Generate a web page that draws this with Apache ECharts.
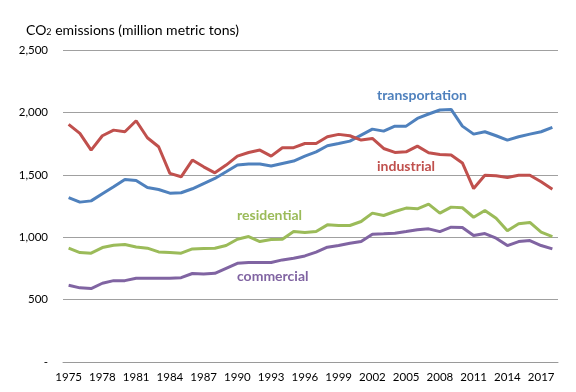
<!DOCTYPE html>
<html><head><meta charset="utf-8">
<script src="https://cdn.jsdelivr.net/npm/echarts@6/dist/echarts.min.js"></script>
<style>html,body{margin:0;padding:0;background:#fff}#c{width:576px;height:392px}</style>
</head><body><div id="c"></div>
<script>
const years = [];
for (let y = 1975; y <= 2018; y++) years.push(String(y));
const transportation = [1318,1281,1291,1348,1404,1463,1455,1398,1382,1353,1356,1388,1430,1471,1524,1578,1586,1586,1570,1591,1610,1650,1684,1733,1751,1770,1818,1866,1850,1890,1890,1952,1987,2019,2024,1890,1826,1845,1813,1778,1805,1826,1845,1880];
const industrial = [1904,1832,1698,1813,1858,1845,1933,1797,1725,1511,1484,1618,1564,1516,1578,1650,1679,1698,1650,1717,1717,1751,1751,1805,1824,1813,1778,1791,1711,1679,1684,1730,1676,1663,1658,1595,1390,1497,1492,1479,1497,1497,1444,1385];
const residential = [912,877,872,917,936,941,922,912,882,877,872,906,909,912,933,984,1005,965,981,984,1045,1037,1045,1099,1094,1094,1126,1193,1174,1206,1233,1227,1265,1193,1241,1236,1160,1214,1152,1051,1107,1118,1040,1005];
const commercial = [615,594,588,631,652,652,671,671,671,671,676,709,706,711,751,791,797,797,797,818,831,850,880,920,933,952,965,1024,1027,1032,1045,1059,1067,1045,1080,1078,1013,1029,992,933,965,973,933,906];
const seriesNames = ['transportation','industrial','residential','commercial'];
const colors = ['#4F81BD','#C0504D','#9BBB59','#8064A2'];
const FONT = 'Lato';

const chart = echarts.init(document.getElementById('c'));
const mk = (name, data, color) => ({
  name, type: 'line', data, symbol: 'none', smooth: false,
  lineStyle: { color, width: 3 }, itemStyle: { color }
});
chart.setOption({
  animation: false,
  textStyle: { fontFamily: FONT },
  grid: { left: 63, right: 18, top: 50, bottom: 30, containLabel: false },
  xAxis: {
    type: 'category', data: years, boundaryGap: true,
    axisTick: { show: false },
    axisLine: { lineStyle: { color: '#9a9a9a', width: 1 } },
    axisLabel: { interval: 2, color: '#000', fontSize: 11.5, margin: 9, fontFamily: FONT }
  },
  yAxis: {
    type: 'value', min: 0, max: 2500, interval: 500,
    axisLine: { show: false }, axisTick: { show: false },
    splitLine: { lineStyle: { color: '#a0a0a0', width: 1 } },
    axisLabel: { color: '#000', fontSize: 11.5, margin: 15, fontFamily: FONT,
      formatter: v => v === 0 ? '-' : v.toLocaleString('en-US') }
  },
  title: {
    left: 21, top: 14,
    text: '{a|CO}{s|2}{a| emissions (million metric tons)}',
    textStyle: { fontWeight: 'normal', rich: {
      a: { fontSize: 14, fontWeight: 'normal', color: '#000', fontFamily: FONT, verticalAlign: 'bottom', lineHeight: 18 },
      s: { fontSize: 9, fontWeight: 'normal', color: '#000', fontFamily: FONT, verticalAlign: 'bottom', lineHeight: 14 }
    } }
  },
  graphic: [
    { type: 'text', left: 377, top: 88, style: { text: seriesNames[0], fill: colors[0], font: 'bold 14px ' + FONT } },
    { type: 'text', left: 377, top: 159, style: { text: seriesNames[1], fill: colors[1], font: 'bold 14px ' + FONT } },
    { type: 'text', left: 237, top: 208, style: { text: seriesNames[2], fill: colors[2], font: 'bold 14px ' + FONT } },
    { type: 'text', left: 237, top: 269, style: { text: seriesNames[3], fill: colors[3], font: 'bold 14px ' + FONT } }
  ],
  series: [
    mk(seriesNames[0], transportation, colors[0]),
    mk(seriesNames[1], industrial, colors[1]),
    mk(seriesNames[2], residential, colors[2]),
    mk(seriesNames[3], commercial, colors[3])
  ]
});
</script></body></html>
